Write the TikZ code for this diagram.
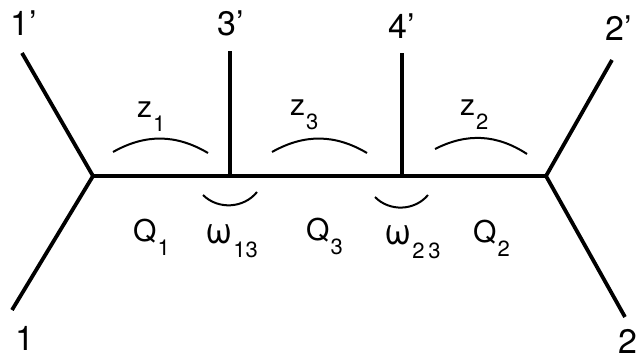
\documentclass[tikz,border=0pt]{standalone}
\usepackage{fontspec}
\setmainfont{TeX Gyre Heros}
\usetikzlibrary{positioning}
\newcommand{\lowidx}[1]{\kern1pt\raisebox{-14pt}{\fontsize{22}{24}\selectfont #1}}
\newcommand{\bigw}{{\fontsize{36}{40}\selectfont ω}}

\begin{document}
\begin{tikzpicture}[x=1pt,y=1pt,
  leg/.style={line width=3.8pt,line join=miter},
  ang/.style={line width=2pt},
  ext/.style={font=\fontsize{34}{40}\selectfont,inner sep=0pt,anchor=base west},
  lab/.style={font=\fontsize{30}{36}\selectfont,inner sep=0pt,anchor=base west}
]
  \useasboundingbox (0,0) rectangle (639,360);

  % vertices on the horizontal line
  \coordinate (vl) at (93,184);
  \coordinate (v3) at (230,184);
  \coordinate (v4) at (402,184);
  \coordinate (vr) at (546,184);

  % free ends of the external lines
  \coordinate (e1p) at (22,307);
  \coordinate (e1) at (12,50);
  \coordinate (e3p) at (230,309);
  \coordinate (e4p) at (402,307);
  \coordinate (e2p) at (612,300);
  \coordinate (e2) at (625,43);

  \draw[leg] (e1p) -- (vl) -- (e1);
  \draw[leg] (e2p) -- (vr) -- (e2);
  \draw[leg] (vl) -- (v3) -- (v4) -- (vr);
  \draw[leg] (e3p) -- (v3);
  \draw[leg] (e4p) -- (v4);

  % external labels
  \node[ext] (l1p) at (10,325) {1'};
  \node[ext] (l3p) at (217,325) {3'};
  \node[ext] (l4p) at (388,322) {4'};
  \node[ext] (l2p) at (605,320) {2'};
  \node[ext,anchor=base] (l1) at (25,10) {1};
  \node[ext,anchor=base] (l2) at (628,7) {2};

  % angle arcs
  \draw[ang] (113,208) to[bend left=30] (208,207);
  \draw[ang] (272,208) to[bend left=30] (367,207);
  \draw[ang] (435,211) to[bend left=30] (527,206);
  \draw[ang] (203,165) to[bend right=48] (257,168);
  \draw[ang] (375,163) to[bend right=48] (428,165);

  % variables
  \node[lab] (z1) at (137,243) {z\lowidx{1}};
  \node[lab] (z3) at (290,245) {z\lowidx{3}};
  \node[lab] (z2) at (460,245) {z\lowidx{2}};
  \node[lab] (q1) at (133,119) {Q\lowidx{1}};
  \node[lab] (w13) at (205,117) {\bigw\lowidx{13}};
  \node[lab] (q3) at (306,120) {Q\lowidx{3}};
  \node[lab] (w23) at (384,116) {\bigw\lowidx{2\,3}};
  \node[lab] (q2) at (473,118) {Q\lowidx{2}};
\end{tikzpicture}
\end{document}
